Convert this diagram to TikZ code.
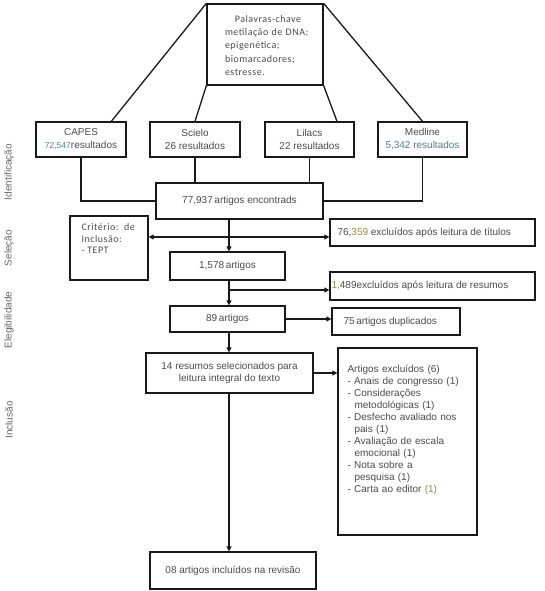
\documentclass[tikz,border=0pt]{standalone}
\usepackage{fontspec}
\setmainfont{Liberation Sans}
\newfontfamily\calfont[LetterSpace=5]{Carlito}
\usetikzlibrary{arrows.meta}
\definecolor{txt}{HTML}{4A4A4A}
\definecolor{tealtxt}{HTML}{4F7F80}
\definecolor{oliv}{HTML}{8A8F3A}
\newcommand\itm[1]{\par\hangindent=7pt\hangafter=1 - #1}
\begin{document}
\begin{tikzpicture}[x=1pt,y=-1pt,
  box/.style={draw=black!90, line width=1.3pt, inner sep=0pt, text=txt,
    font=\fontsize{10}{13}\selectfont, align=center},
  ln/.style={line width=1.3pt, draw=black!90},
  ar/.style={ln, -{Triangle[length=5pt,width=5pt]}},
  dar/.style={ln, {Triangle[length=5pt,width=5pt]}-{Triangle[length=5pt,width=5pt]}},
  side/.style={rotate=90, text=txt!85, font=\fontsize{10}{12}\selectfont},
  intext/.style={inner sep=0pt, text=txt, align=left}]
\useasboundingbox (0,0) rectangle (544,591);
\coordinate (mx) at (229,0);
\coordinate (row1) at (0,237);
\coordinate (row2) at (0,290);

% side labels
\node[side] (lid) at (9,172) {Identificação};
\node[side] (lsel) at (9,248) {Seleção};
\node[side] (leg) at (9,320) {Elegibilidade};
\node[side] (linc) at (9,420) {Inclusão};

% keyword box
\node[box, minimum width=116pt, minimum height=81pt] (kw) at (265,44.5) {};
\node[intext, text width=86pt, font=\calfont\fontsize{10}{13.3}\selectfont] (kwtxt)
  at ([xshift=3pt,yshift=-1pt]kw.center)
  {\makebox[\linewidth][c]{Palavras-chave}\\ metilação de DNA;\\ epigenética;\\ biomarcadores;\\ estresse.};

% databases
\node[box, minimum width=90pt, minimum height=35pt] (capes) at (81,139.5)
  {CAPES\\{\fontsize{8.5}{10}\selectfont\color{tealtxt}72,547}resultados};
\node[box, minimum width=90pt, minimum height=35pt] (scielo) at (195,139.5)
  {Scielo\\26 resultados};
\node[box, minimum width=89pt, minimum height=35pt] (lilacs) at (309.5,139.5)
  {Lilacs\\22 resultados};
\node[box, minimum width=89pt, minimum height=35pt] (medline) at (422.5,139.5)
  {Medline\\{\color{tealtxt}5,342 resultados}};

\node[box, minimum width=167pt, minimum height=36pt] (total) at (239.5,201)
  {77,937\,artigos encontrads};

\node[box, minimum width=78pt, minimum height=64pt] (crit) at (109,248) {};
\node[intext, anchor=north west, font=\calfont\fontsize{10}{11.7}\selectfont] (crittxt)
  at ([xshift=12pt,yshift=-8pt]crit.north west) {Critério:\ \ de\\Inclusão:\\- TEPT};

\node[box, minimum width=205pt, minimum height=27pt] (t76) at (432.5,232.5) {};
\node[intext, anchor=west] (t76txt) at ([xshift=8pt]t76.west)
  {76,{\color{oliv}359} excluídos após leitura de títulos};

\node[box, minimum width=115pt, minimum height=28pt] (n1578) at (227.5,266)
  {1,578\,artigos};

\node[box, minimum width=205pt, minimum height=28pt] (t1489) at (432.5,286) {};
\node[intext, anchor=west] (t1489txt) at ([xshift=2pt]t1489.west)
  {{\color{oliv}1,}489excluídos após leitura de resumos};

\node[box, minimum width=115pt, minimum height=26pt] (n89) at (227.5,319)
  {89\,artigos};

\node[box, minimum width=128pt, minimum height=27pt] (t75) at (396,321.5) {};
\node[intext, anchor=west] (t75txt) at ([xshift=12pt]t75.west)
  {75\,artigos duplicados};

\node[box, minimum width=167pt, minimum height=40pt, font=\fontsize{10}{12}\selectfont] (n14) at (229.5,373)
  {14 resumos selecionados para\\leitura integral do texto};

\node[box, minimum width=139pt, minimum height=187pt] (exc) at (407.5,441.5) {};
\node[intext, anchor=north west, text width=130pt, font=\fontsize{10}{12}\selectfont] (exctxt)
  at ([xshift=10pt,yshift=-18pt]exc.north west)
  {\raggedright Artigos excluídos (6)
  \itm{Anais de congresso (1)}
  \itm{Considerações\newline metodológicas (1)}
  \itm{Desfecho avaliado nos\newline pais (1)}
  \itm{Avaliação de escala\newline emocional (1)}
  \itm{Nota sobre a\newline pesquisa (1)}
  \itm{Carta ao editor {\color{oliv}(1)}}\par};

\node[box, minimum width=166pt, minimum height=37pt] (n08) at (233,570.5)
  {08 artigos incluídos na revisão};

% connectors from keyword box
\draw[ln] (kw.north west) -- ([xshift=76pt]capes.north west);
\draw[ln] (kw.north east) -- (medline.north);
\draw[ln] (kw.south west) -- (scielo.north);
\draw[ln] (kw.south east) -- ([xshift=27.5pt]lilacs.north);

% databases to total
\draw[ln] (capes.south) |- (total.west);
\draw[ln] (medline.south) |- (total.east);
\draw[ln] (scielo.south) -- (scielo.south |- total.north);
\draw[ln] (lilacs.south) -- (lilacs.south |- total.north);

% main flow
\draw[ar] (total.south -| mx) -- (n1578.north -| mx);
\draw[dar] (crit.east |- row1) -- (t76.west |- row1);
\draw[ar] (n1578.south -| mx) -- (n89.north -| mx);
\draw[ar] (mx |- row2) -- (t1489.west |- row2);
\draw[ar] (n89.east) -- (t75.west |- n89.east);
\draw[ar] (n89.south -| mx) -- (n14.north -| mx);
\draw[ar] (n14.east) -- (exc.west |- n14.east);
\draw[ar] (n14.south -| mx) -- (n08.north -| mx);
\end{tikzpicture}
\end{document}
